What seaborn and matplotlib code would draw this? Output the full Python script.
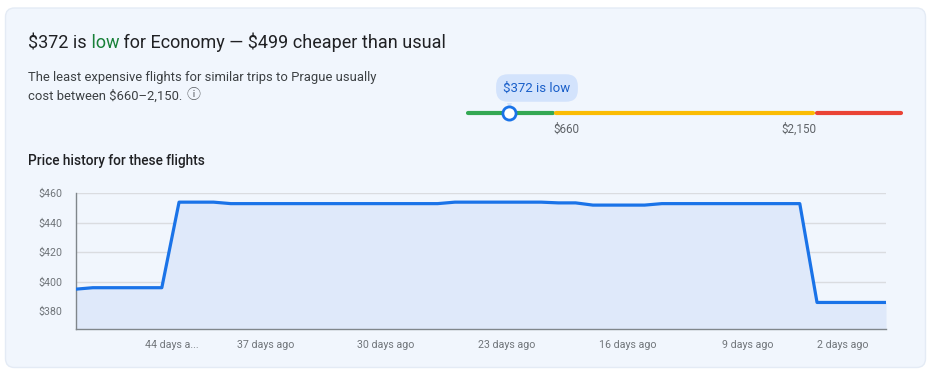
import matplotlib.pyplot as plt
import matplotlib.transforms as mtransforms
import seaborn as sns
import pandas as pd
import numpy as np
from matplotlib.patches import FancyBboxPatch

# price history, one point per day (days ago -> price in $)
days_ago = [48, 47, 46, 45, 44, 43, 42, 41, 40, 39, 38, 37, 36, 35, 34, 33,
            32, 31, 30, 29, 28, 27, 26, 25, 24, 23, 22, 21, 20, 19, 18, 17,
            16, 15, 14, 13, 12, 11, 10, 9, 8, 7, 6, 5, 4, 3, 2, 1]
prices = [395, 396, 396, 396, 396, 396, 454, 454, 454, 453, 453, 453, 453, 453, 453, 453,
          453, 453, 453, 453, 453, 453, 454, 454, 454, 454, 454, 454, 453.5, 453.5, 452, 452,
          452, 452, 453, 453, 453, 453, 453, 453, 453, 453, 453, 386, 386, 386, 386, 386]

tick_days = [44, 37, 30, 23, 16, 9, 2]
tick_labels = ["44 days a...", "37 days ago", "30 days ago", "23 days ago",
               "16 days ago", "9 days ago", "2 days ago"]
price_ticks = [380, 400, 420, 440, 460]

current_price = 372
range_low = 660
range_high = 2150
bar_min, bar_max = 97, 2652

df = pd.DataFrame({"x": [-d for d in days_ago], "price": prices})

sns.set_theme(style="white")
plt.rcParams["font.family"] = ["Roboto", "DejaVu Sans"]

W, H = 933, 376
fig = plt.figure(figsize=(W / 100, H / 100), dpi=100)
fig.patch.set_facecolor("white")

def fx(px):
    return px / W

def fy(py):
    return 1 - py / H

# card background
card = FancyBboxPatch((5.5, H - 367.5), 920, 359.5,
                      boxstyle="round,pad=0,rounding_size=9",
                      transform=None, facecolor="#f1f6fd", edgecolor="#e4ebf5",
                      linewidth=1, zorder=0)
fig.add_artist(card)

# headline with coloured "low"
parts = [("$372 is", "#202124"), (" low", "#188038"),
         (" for Economy \u2014 $499 cheaper than usual", "#202124")]
fig.canvas.draw()
renderer = fig.canvas.get_renderer()
x0 = fx(28)
for s, c in parts:
    t = fig.text(x0, fy(48.5), s, color=c, fontsize=13.0, va="baseline",
                 ha="left", parse_math=False)
    bb = t.get_window_extent(renderer)
    x0 = bb.x1 / W

fig.text(fx(28), fy(81.5), "The least expensive flights for similar trips to Prague usually",
         fontsize=9.4, color="#3c4043", va="baseline", parse_math=False)
t2 = fig.text(fx(28), fy(99.3), "cost between $660\u20132,150.",
              fontsize=9.4, color="#3c4043", va="baseline", parse_math=False)
bb = t2.get_window_extent(renderer)
fig.text(bb.x1 / W + fx(4), fy(99.3), "\u24d8", fontsize=10, color="#5f6368",
         va="baseline", family=["Noto Sans CJK SC", "DejaVu Sans"])

fig.text(fx(28), fy(165.5), "Price history for these flights", fontsize=9.8,
         color="#202124", va="baseline", fontweight="medium", parse_math=False)

# price range bar (piecewise scale: low / typical / high zones)
zone_vals = [bar_min, range_low, range_high, bar_max]
zone_px = [0, 88, 349, 437]

def fwd(v):
    return np.interp(v, zone_vals, zone_px)

def inv(p):
    return np.interp(p, zone_px, zone_vals)

bar_ax = fig.add_axes([fx(466), fy(123), fx(903 - 466), 20 / H])
bar_ax.set_xscale("function", functions=(fwd, inv))
bar_ax.set_xlim(bar_min, bar_max)
bar_ax.set_ylim(-1, 1)
bar_ax.axis("off")
segs = [(bar_min + 10, range_low - 9, "#34a853"),
        (range_low + 9, range_high - 9, "#fbbc04"),
        (range_high + 9, bar_max - 10, "#ea4335")]
for a, b, c in segs:
    bar_ax.plot([a, b], [0, 0], color=c, linewidth=3, solid_capstyle="round")
bar_ax.scatter([current_price], [0], s=90, facecolor="white", edgecolor="#1a73e8",
               linewidth=2, zorder=5)
tip = mtransforms.offset_copy(bar_ax.transData, fig=fig, x=0, y=10, units="dots")
bar_ax.scatter([current_price], [0], s=45, marker="v", color="#d3e3fc",
               transform=tip, linewidth=0, zorder=4)
bar_ax.annotate("$372 is low", xy=(current_price, 0), xytext=(28, 25),
                textcoords="offset pixels", ha="center", va="center",
                fontsize=9.5, color="#1a5fc9", parse_math=False,
                bbox=dict(boxstyle="round,pad=0.55,rounding_size=0.9",
                          facecolor="#d3e3fc", edgecolor="none"))
bar_ax.annotate("$660", xy=(range_low, 0), xytext=(-1, -16), textcoords="offset pixels",
                ha="left", va="center", fontsize=8.4, color="#5f6368")
bar_ax.annotate("$2,150", xy=(range_high, 0), xytext=(1, -16), textcoords="offset pixels",
                ha="right", va="center", fontsize=8.4, color="#5f6368")

# price history chart
ax = fig.add_axes([fx(75.6), fy(329.3), fx(886 - 75.6), (329.3 - 193.3) / H])
ax.set_facecolor("none")
ymin, ymax = 367.8, 460
ax.fill_between(df["x"], df["price"], ymin, color="#dfe9fa", linewidth=0, zorder=1)
sns.lineplot(data=df, x="x", y="price", ax=ax, color="#1a73e8", linewidth=2.3, zorder=3)
ax.set_xlim(-48, -1)
ax.set_ylim(ymin, ymax)
ax.set_yticks(price_ticks)
ax.set_yticklabels([f"${p}" for p in price_ticks])
ax.set_xticks([-d for d in tick_days])
ax.set_xticklabels(tick_labels)
ax.set_xlabel("")
ax.set_ylabel("")
ax.grid(axis="y", color="#dadce0", linewidth=1, zorder=0)
ax.set_axisbelow(True)
for side in ["top", "right"]:
    ax.spines[side].set_visible(False)
for side in ["left", "bottom"]:
    ax.spines[side].set_color("#80868b")
    ax.spines[side].set_linewidth(1)
ax.tick_params(axis="both", colors="#80868b", labelcolor="#70757a", labelsize=7.7,
               length=3.5, width=1)
ax.tick_params(axis="x", pad=4)
ax.tick_params(axis="y", pad=5, length=4.5)
xlabels = ax.get_xticklabels()
xlabels[0].set_horizontalalignment("left")
xlabels[-1].set_horizontalalignment("right")

fig.savefig("out.png", dpi=100, facecolor="white")
